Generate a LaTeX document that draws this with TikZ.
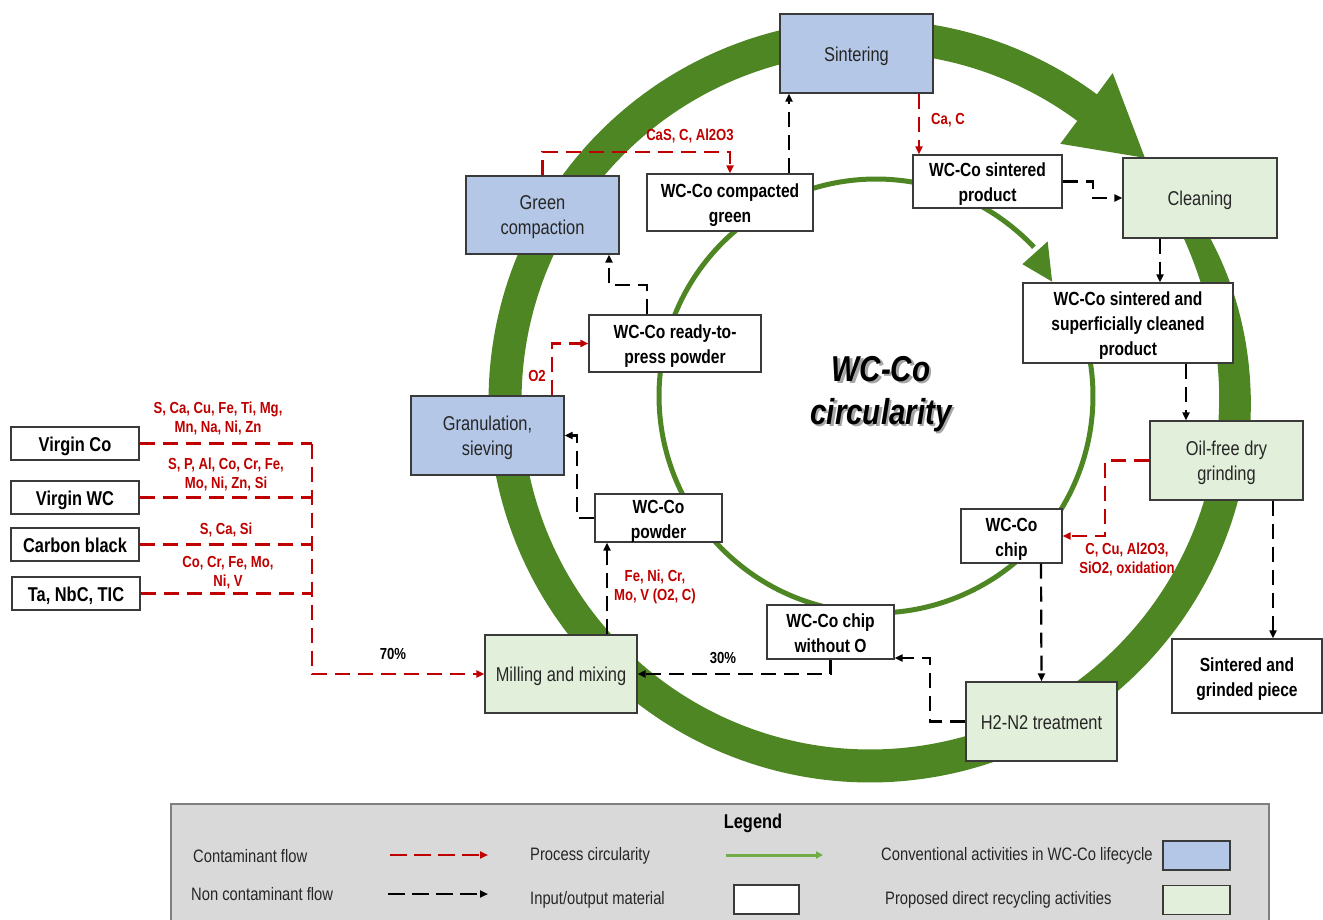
\documentclass[tikz,border=0pt]{standalone}
\usepackage{fontspec}
\usetikzlibrary{arrows.meta}
\newfontfamily\nar{Liberation Sans}[FakeStretch=0.82]

\definecolor{convblue}{HTML}{B4C7E7}
\definecolor{recgreen}{HTML}{E2EFDA}
\definecolor{ringgreen}{HTML}{4E8623}
\definecolor{flowred}{HTML}{C00000}
\definecolor{boxline}{HTML}{3A3A3A}
\definecolor{txt}{HTML}{262626}
\definecolor{leggray}{HTML}{D9D9D9}
\definecolor{legline}{HTML}{7F7F7F}
\definecolor{leggreen}{HTML}{70AD47}

% struts give one-line box labels a taller line box, so the text sits a little lower
\newcommand{\topstrut}{\rule{0pt}{0.98em}}
\newcommand{\botstrut}{\rule[-0.21em]{0pt}{0.21em}}

\tikzset{
  boxtext/.style={execute at begin node=\topstrut, execute at end node=\botstrut},
  % multi-line labels: fixed box metrics (baseline of the last line)
  twoline/.style={text height=44pt, text depth=4pt},
  threeline/.style={text height=69pt, text depth=4pt},
  proc/.style={draw=boxline, line width=1.3pt, inner sep=0pt, align=center, text=txt, boxtext,
    font=\nar\fontsize{20}{25}\selectfont},
  conv/.style={proc, fill=convblue},
  recy/.style={proc, fill=recgreen},
  mat/.style={draw=boxline, line width=1.3pt, fill=white, inner sep=0pt, align=center, boxtext,
    text=black, font=\nar\bfseries\fontsize{19}{25}\selectfont},
  inp/.style={mat, minimum width=128pt, minimum height=33pt, font=\nar\bfseries\fontsize{20}{24}\selectfont},
  tip/.style={-{Triangle[length=8pt,width=7pt]}},
  rflow/.style={draw=flowred, line width=2.2pt, dash pattern=on 15pt off 8pt},
  bflow/.style={draw=black, line width=2.2pt, dash pattern=on 15pt off 8pt},
  rlab/.style={text=flowred, font=\nar\bfseries\fontsize{16}{19}\selectfont, align=center, inner sep=0pt},
  blab/.style={text=black, font=\nar\bfseries\fontsize{16}{19}\selectfont, inner sep=0pt},
  legtxt/.style={text=txt, font=\nar\fontsize{18}{21}\selectfont, anchor=west, inner sep=0pt},
  legbox/.style={draw=boxline, line width=1.2pt, inner sep=0pt, minimum width=66pt, minimum height=29pt},
  bigtitle/.style={font=\nar\bfseries\itshape\fontsize{36}{43}\selectfont, align=center, inner sep=0pt},
}

\begin{document}
\begin{tikzpicture}[x=1pt,y=-1pt]
\useasboundingbox (0,0) rectangle (1323,920);
\fill[white] (0,0) rectangle (1323,920);

% ---- outer process circularity arrow (tapering band + head) ----
\fill[ringgreen]
  plot[domain=0:1,samples=260,variable=\t]
    ({870+(365+(33-13*exp(-25*\t))/2)*cos(31-337.8*\t)},
     {401-(365+(33-13*exp(-25*\t))/2)*sin(31-337.8*\t)})
  -- plot[domain=1:0,samples=260,variable=\t]
    ({870+(365-(33-13*exp(-25*\t))/2)*cos(31-337.8*\t)},
     {401-(365-(33-13*exp(-25*\t))/2)*sin(31-337.8*\t)})
  -- cycle;
\fill[ringgreen]
  ({870+408*cos(53.5)},{401-408*sin(53.5)})
  -- ({870+367*cos(41.5)},{401-367*sin(41.5)})
  -- ({870+320*cos(53.5)},{401-320*sin(53.5)}) -- cycle;

% ---- inner circularity line with head ----
\draw[ringgreen, line width=5pt]
  plot[domain=0:1,samples=220,variable=\t]
    ({876+217*cos(28-345*\t)},{396-217*sin(28-345*\t)});
\fill[ringgreen]
  ({876+197*cos(42)},{396-197*sin(42)})
  -- ({876+210*cos(33)},{396-210*sin(33)})
  -- ({876+231*cos(42)},{396-231*sin(42)}) -- cycle;

% ---- centre title with soft shadow ----
\node[bigtitle, text=black, opacity=0.35] (tshadow) at (883.5,396.5) {WC-Co\\circularity};
\node[bigtitle, text=black] (title) at (881,394) {WC-Co\\circularity};

% ---- process boxes ----
\node[conv, minimum width=153pt, minimum height=79pt] (sint) at (856.5,53.5) {Sintering};
\node[conv, twoline, minimum width=153pt, minimum height=78pt] (gc) at (542.5,215) {Green\\compaction};
\node[conv, twoline, minimum width=153pt, minimum height=79pt] (gran) at (487.5,435.5) {Granulation,\\sieving};
\node[recy, minimum width=154pt, minimum height=80pt] (clean) at (1200,198) {Cleaning};
\node[recy, twoline, minimum width=153pt, minimum height=79pt] (oil) at (1226.5,460.5) {Oil-free dry\\grinding};
\node[recy, minimum width=151pt, minimum height=79pt] (h2) at (1041.5,721.5) {H2-N2 treatment};
\node[recy, minimum width=152pt, minimum height=78pt] (mill) at (561,674) {Milling and mixing};

% ---- material boxes ----
\node[mat, twoline, minimum width=166pt, minimum height=57pt] (cg) at (730,202.5) {WC-Co compacted\\green};
\node[mat, twoline, minimum width=149pt, minimum height=53pt] (sprod) at (987.5,181.5) {WC-Co sintered\\product};
\node[mat, threeline, minimum width=210pt, minimum height=80pt] (scl) at (1128,323) {WC-Co sintered and\\superficially cleaned\\product};
\node[mat, twoline, minimum width=172pt, minimum height=57pt] (rtp) at (675,343.5) {WC-Co ready-to-\\press powder};
\node[mat, twoline, minimum width=127pt, minimum height=48pt] (powd) at (658.5,518) {WC-Co\\powder};
\node[mat, twoline, minimum width=101pt, minimum height=54pt] (chip) at (1011.5,536) {WC-Co\\chip};
\node[mat, twoline, minimum width=127pt, minimum height=54pt] (chipo) at (830.5,632) {WC-Co chip\\without O};
\node[mat, twoline, minimum width=150pt, minimum height=74pt] (sgp) at (1247,676) {Sintered and\\grinded piece};

% ---- raw material inputs ----
\node[inp] (vco) at (75,443.5) {Virgin Co};
\node[inp] (vwc) at (75,497.5) {Virgin WC};
\node[inp] (cb) at (75,544.5) {Carbon black};
\node[inp] (ta) at (76,593.5) {Ta, NbC, TIC};

\coordinate (j1) at (312,443.5);
\coordinate (j2) at (312,497.5);
\coordinate (j3) at (312,544.5);
\coordinate (j4) at (312,593.5);
\coordinate (jb) at (312,674);

\draw[rflow] (vco.east) -- (j1);
\draw[rflow] (vwc.east) -- (j2);
\draw[rflow] (cb.east) -- (j3);
\draw[rflow] (ta.east) -- (j4);
\draw[rflow, tip] (j1) -- (jb) -- (mill.west);

\node[rlab] (c1) at (218,418) {S, Ca, Cu, Fe, Ti, Mg,\\Mn, Na, Ni, Zn};
\node[rlab] (c2) at (226,474) {S, P, Al, Co, Cr, Fe,\\Mo, Ni, Zn, Si};
\node[rlab] (c3) at (226,530) {S, Ca, Si};
\node[rlab] (c4) at (228,573) {Co, Cr, Fe, Mo,\\Ni, V};
\node[blab] (p70) at (393,654) {70\%};

% ---- flows around the cycle ----
\draw[bflow, tip] ([xshift=46pt]mill.north) -- ([xshift=-51.5pt]powd.south);
\node[rlab] (c5) at (655,586.5) {Fe, Ni, Cr,\\Mo, V (O2, C)};

\draw[bflow, tip] (powd.west) -- ++(-17,0) |- (gran.east);

\draw[rflow, tip] ([xshift=64.5pt]gran.north) |- (rtp.west);
\node[rlab] (c6) at (537,376) {O2};

\draw[bflow, tip] ([xshift=-28pt]rtp.north) -- ++(0,-29) -| ([xshift=66.5pt]gc.south);

\draw[rflow, tip] (gc.north) -- ++(0,-23) -| (cg.north);
\node[rlab] (c7) at (690,136) {CaS, C, Al2O3};

\draw[bflow, tip] ([xshift=59pt]cg.north) -- ([xshift=-67.5pt]sint.south);

\draw[rflow, tip] ([xshift=62.5pt]sint.south) -- ([xshift=-68.5pt]sprod.north);
\node[rlab] (c8) at (948,120) {Ca, C};

\draw[bflow, tip] (sprod.east) -- ++(30,0) |- (clean.west);

\draw[bflow, tip] ([xshift=-40pt]clean.south) -- ([xshift=32pt]scl.north);
\draw[bflow, tip] ([xshift=58pt]scl.south) -- ([xshift=-40.5pt]oil.north);

\draw[rflow, tip] (oil.west) -- ++(-44,0) |- (chip.east);
\node[rlab] (c9) at (1127,559) {C, Cu, Al2O3,\\SiO2, oxidation};

\draw[bflow, tip] ([xshift=46.5pt]oil.south) -- ([xshift=26pt]sgp.north);
\draw[bflow, tip] ([xshift=29.5pt]chip.south) -- (h2.north);

\draw[bflow, tip] (h2.west) -- ++(-35,0) |- ([yshift=-26pt]chipo.east);
\draw[bflow, tip] (chipo.south) |- (mill.east);
\node[blab] (p30) at (723,658) {30\%};

% ---- legend ----
\node[draw=legline, fill=leggray, line width=1.5pt, minimum width=1098pt, minimum height=130pt,
      inner sep=0pt, anchor=north west] (leg) at (170,803) {};
\node[font=\nar\bfseries\fontsize{20}{24}\selectfont, inner sep=0pt] (legt) at (753,823) {Legend};

\node[legtxt] (l1) at (193,856) {Contaminant flow};
\coordinate (l1a) at (390,855);
\coordinate (l1b) at (488,855);
\draw[rflow, tip, dash pattern=on 17pt off 7pt] (l1a) -- (l1b);

\node[legtxt] (l2) at (191,894) {Non contaminant flow};
\coordinate (l2a) at (388,894);
\coordinate (l2b) at (488,894);
\draw[bflow, tip, dash pattern=on 17pt off 7pt] (l2a) -- (l2b);

\node[legtxt] (l3) at (530,856) {Process circularity};
\coordinate (l3a) at (726,855);
\coordinate (l3b) at (823,855);
\draw[leggreen, line width=3pt, -{Triangle[length=7pt,width=7pt]}] (l3a) -- (l3b);

\node[legtxt] (l4) at (530,900) {Input/output material};
\node[legbox, fill=white, minimum width=65pt] (lb1) at (766.5,899.5) {};

\node[legtxt] (l5) at (881,856) {Conventional activities in WC-Co lifecycle};
\node[legbox, fill=convblue, minimum width=67pt] (lb2) at (1196.5,855.5) {};

\node[legtxt] (l6) at (885,900) {Proposed direct recycling activities};
\node[legbox, fill=recgreen, minimum width=67pt] (lb3) at (1196.5,900) {};
\end{tikzpicture}
\end{document}
